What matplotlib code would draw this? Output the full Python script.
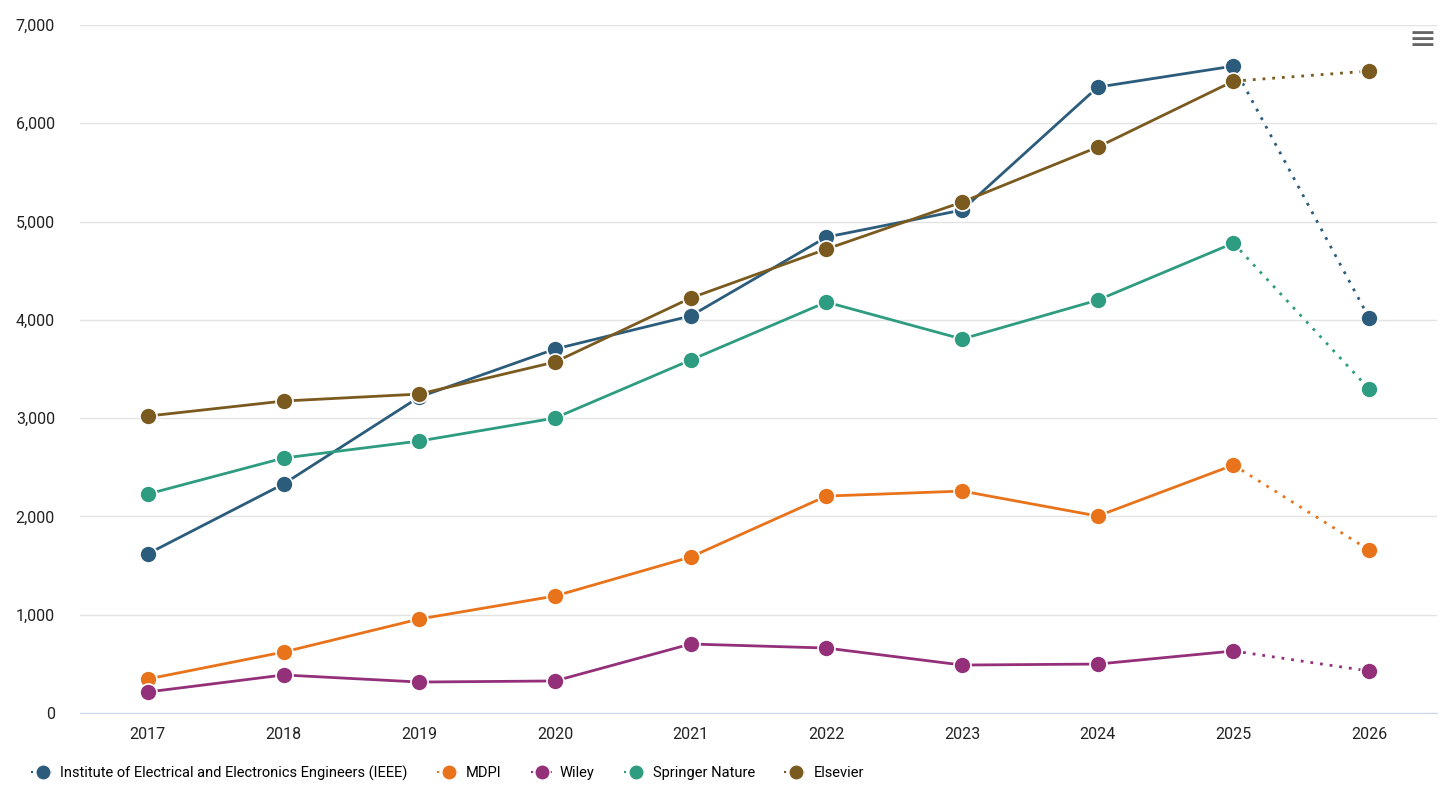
import numpy as np
import matplotlib.pyplot as plt
from matplotlib.lines import Line2D

plt.rcParams['font.family'] = ['Roboto', 'DejaVu Sans']

years = [2017, 2018, 2019, 2020, 2021, 2022, 2023, 2024, 2025, 2026]
ieee = [1620, 2330, 3215, 3703, 4040, 4842, 5117, 6368, 6582, 4018]
mdpi = [346, 620, 956, 1190, 1587, 2207, 2258, 2004, 2523, 1658]
wiley = [214, 387, 315, 326, 702, 661, 488, 498, 631, 427]
springer = [2228, 2594, 2767, 3001, 3591, 4181, 3805, 4201, 4781, 3296]
elsevier = [3021, 3174, 3245, 3571, 4222, 4720, 5198, 5758, 6429, 6531]

series = [
    ("Institute of Electrical and Electronics Engineers (IEEE)", ieee, "#2c5c7c"),
    ("MDPI", mdpi, "#e8731a"),
    ("Wiley", wiley, "#94307a"),
    ("Springer Nature", springer, "#2e9c80"),
    ("Elsevier", elsevier, "#7a5a1e"),
]

fig = plt.figure(figsize=(14.56, 8.02), dpi=100)
ax = fig.add_axes([80/1456, 1-713/802, (1437-80)/1456, (713-25)/802])

x = np.arange(len(years))
handles = []
for name, vals, col in series:
    ax.plot(x[:-1], vals[:-1], color=col, lw=2, zorder=2)
    ax.plot(x[-2:], vals[-2:], color=col, lw=2, ls=(0, (1, 2.5)), zorder=2)
    ax.scatter(x, vals, s=150, color=col, edgecolor='white', linewidth=1.2, zorder=3)
    handles.append(Line2D([], [], color=col, lw=1.5, ls=(0, (1, 2)), marker='o',
                          markersize=11, markeredgecolor='white', label=name))

ax.set_xlim(-0.5, len(years) - 0.5)
ax.set_ylim(0, 7000)
ax.set_xticks(x)
ax.set_xticklabels(years)
ax.set_yticks(range(0, 7001, 1000))
ax.set_yticklabels([f"{v:,}" for v in range(0, 7001, 1000)])
ax.grid(axis='y', color='#e3e3e3', lw=1)
ax.set_axisbelow(True)
for s in ['top', 'right', 'left']:
    ax.spines[s].set_visible(False)
ax.spines['bottom'].set_color('#ccd6eb')
ax.tick_params(axis='both', length=0, labelsize=11.5, colors='#222222')
ax.tick_params(axis='x', pad=10)
ax.tick_params(axis='y', pad=18)

fig.legend(handles=handles, loc='lower left', bbox_to_anchor=(18/1456, 0.01),
           ncol=5, frameon=False, fontsize=10.5, handlelength=1.6,
           handletextpad=0.4, columnspacing=2.0)

fig.text(1422/1456, 1-40/802, "≡", fontsize=24, color='#666666',
         ha='center', va='center', family='DejaVu Sans')

fig.savefig('out.png', dpi=100)
